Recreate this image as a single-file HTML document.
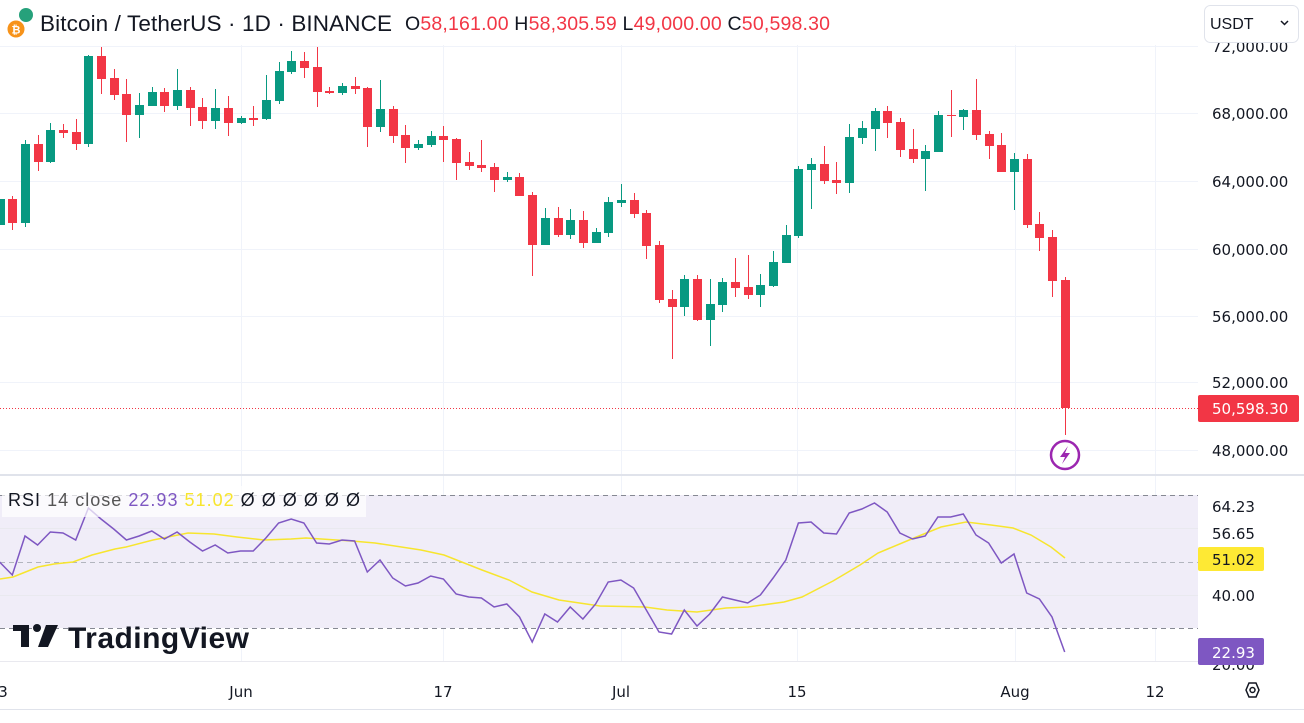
<!DOCTYPE html>
<html><head><meta charset="utf-8">
<style>
html,body{margin:0;padding:0;background:#fff;}
body{width:1304px;height:723px;overflow:hidden;position:relative;font-family:"Liberation Sans",sans-serif;}
svg{position:absolute;left:0;top:0;}
.ax{font-family:"DejaVu Sans","Liberation Sans",sans-serif;font-size:15px;fill:#131722;}
</style></head><body>
<svg id="s" width="1304" height="723" xmlns="http://www.w3.org/2000/svg">
<g id="grid"></g>
<rect x="0" y="495" width="1198" height="133" fill="#f0edf8"/>
<g stroke="#e9e9ef" stroke-width="1"><line x1="0" y1="528.5" x2="1198" y2="528.5"/><line x1="0" y1="595.5" x2="1198" y2="595.5"/><line x1="0" y1="661.5" x2="1198" y2="661.5"/></g>
<g stroke="#868993" stroke-width="1" stroke-dasharray="5,4"><line x1="0" y1="495.5" x2="1198" y2="495.5"/><line x1="0" y1="562.5" x2="1198" y2="562.5" stroke="#b2b5be"/><line x1="0" y1="628.5" x2="1198" y2="628.5"/></g>
<g id="c"></g>
<line x1="0" y1="408.5" x2="1198" y2="408.5" stroke="#f23645" stroke-width="1" stroke-dasharray="1,2"/>
<polyline id="ma" fill="none" stroke="#f7e52e" stroke-width="1.5"/>
<polyline id="rsi" fill="none" stroke="#7e57c2" stroke-width="1.5"/>
<rect x="0" y="474" width="1304" height="2" fill="#e0e3eb"/>
<rect x="0" y="709" width="1304" height="1" fill="#e0e3eb"/>
<circle cx="1065" cy="455" r="14" fill="#fff" stroke="#9c27b0" stroke-width="2.5"/>
<path d="M1068 446 L1060 457 L1065 457 L1062 464 L1070 453 L1065 453 Z" fill="#9c27b0"/>
<g class="ax">
<text x="1212" y="52">72,000.00</text>
<text x="1212" y="119">68,000.00</text>
<text x="1212" y="187">64,000.00</text>
<text x="1212" y="255">60,000.00</text>
<text x="1212" y="322">56,000.00</text>
<text x="1212" y="388">52,000.00</text>
<text x="1212" y="456">48,000.00</text>
<text x="1212" y="512">64.23</text>
<text x="1212" y="539">56.65</text>
<text x="1212" y="601">40.00</text>
<text x="1212" y="670">20.00</text>
</g>
<rect x="1198" y="395" width="101" height="27" rx="2" fill="#f23645"/>
<text x="1212" y="414" class="ax" style="fill:#fff">50,598.30</text>
<rect x="1198" y="547" width="66" height="24" rx="2" fill="#fee934"/>
<text x="1212" y="565" class="ax">51.02</text>
<rect x="1198" y="638" width="66" height="27" rx="2" fill="#7e57c2"/>
<text x="1212" y="658" class="ax" style="fill:#fff">22.93</text>
<g class="ax" text-anchor="middle">
<text x="3" y="697">3</text><text x="241" y="697">Jun</text><text x="443" y="697">17</text><text x="621" y="697">Jul</text><text x="797" y="697">15</text><text x="1015" y="697">Aug</text><text x="1155" y="697">12</text>
</g>
<polygon points="1246,690 1249,683 1256,683 1259,690 1256,697 1249,697" fill="none" stroke="#131722" stroke-width="1.5"/>
<circle cx="1252.5" cy="690" r="2.5" fill="none" stroke="#131722" stroke-width="1.5"/>
<rect x="1204.5" y="5.5" width="94" height="37" rx="6" fill="#fff" stroke="#e0e3eb"/>
<text x="1210" y="29" style="font-family:'Liberation Sans',sans-serif;font-size:16px;fill:#131722">USDT</text>
<path d="M1281 21 L1284.5 24.5 L1288 21" fill="none" stroke="#131722" stroke-width="1.5"/>
<circle cx="26" cy="15" r="7" fill="#26a17b"/>
<circle cx="16" cy="29" r="9" fill="#f7931a" stroke="#fff" stroke-width="1"/>
<text x="16" y="33.5" text-anchor="middle" style="font-size:11px;font-weight:bold;fill:#fff">₿</text>
<text x="40" y="31" textLength="352" style="font-family:'Liberation Sans',sans-serif;font-size:22.5px;fill:#131722">Bitcoin / TetherUS · 1D · BINANCE</text>
<text x="405" y="30" textLength="425" style="font-family:'Liberation Sans',sans-serif;font-size:19.5px;fill:#131722">O<tspan fill="#f23645">58,161.00</tspan> H<tspan fill="#f23645">58,305.59</tspan> L<tspan fill="#f23645">49,000.00</tspan> C<tspan fill="#f23645">50,598.30</tspan></text>
<rect x="2" y="486" width="364" height="31" fill="#fff" opacity="0.7"/>
<text x="8" y="506" textLength="352" style="font-family:'Liberation Sans',sans-serif;font-size:18px;fill:#131722">RSI <tspan fill="#555">14 close</tspan> <tspan fill="#7e57c2">22.93</tspan> <tspan fill="#f7e52e">51.02</tspan> <tspan fill="#131722">Ø  Ø  Ø  Ø  Ø  Ø</tspan></text>
<g fill="#131722">
<rect x="13" y="625" width="16" height="6"/><rect x="21" y="625" width="8" height="22"/>
<circle cx="37" cy="628" r="4"/>
<polygon points="46,625 58,625 48,647 38,647"/>
</g>
<text x="68" y="648" textLength="181" style="font-family:'Liberation Sans',sans-serif;font-size:30px;font-weight:bold;fill:#131722">TradingView</text>
</svg>
<script>
var ns="http://www.w3.org/2000/svg";
function el(p,t,a){var e=document.createElementNS(ns,t);for(var k in a)e.setAttribute(k,a[k]);p.appendChild(e);return e;}
var g=document.getElementById('grid');
[46,113,181,249,316,382,450].forEach(function(y){el(g,'line',{x1:0,x2:1198,y1:y+.5,y2:y+.5,stroke:'#f0f3fa'});});
[241,443,621,797,1015,1155].forEach(function(x){el(g,'line',{x1:x+.5,x2:x+.5,y1:45,y2:662,stroke:'#f0f3fa'});});
var C=[
[199,225,199,225,1],[199,223,196,230,0],[144,223,140,227,1],[144,162,135,171,0],[130,162,123,163,1],[130,133,124,138,0],[132,144,119,150,0],[56,144,55,147,1],[56,79,47,94,0],[78,95,69,100,0],
[94,115,79,142,0],[105,115,93,138,1],[92,106,87,106,1],[92,106,88,112,0],[90,106,69,110,1],[90,108,87,126,0],[107,121,98,129,0],[108,121,89,129,1],[108,123,96,136,0],[118,123,116,124,1],
[118,120,106,126,0],[100,119,75,120,1],[71,101,62,104,1],[61,72,51,74,1],[61,68,52,78,0],[67,92,47,107,0],[91,93,87,94,0],[86,93,83,95,1],[86,89,77,94,0],[88,127,87,147,0],
[109,127,80,132,1],[109,136,106,143,0],[135,148,125,163,0],[144,148,140,150,1],[136,145,131,147,1],[136,140,126,162,0],[139,163,138,180,0],[162,166,152,170,0],[165,168,140,172,0],[167,180,163,192,0],
[177,180,172,182,1],[177,196,173,196,0],[195,245,192,276,0],[218,245,208,245,1],[218,235,207,237,0],[220,235,209,239,1],[220,243,211,248,0],[232,243,228,243,1],[202,233,197,237,1],[200,203,184,207,1],
[200,214,193,218,0],[213,246,210,259,0],[245,300,241,303,0],[299,307,290,359,0],[279,307,275,316,1],[279,320,275,321,0],[304,320,279,346,1],[282,305,278,312,1],[282,288,258,297,0],[287,295,255,299,0],
[285,295,274,307,1],[262,286,251,287,1],[235,263,225,263,1],[169,236,166,238,1],[164,170,158,209,1],[164,181,146,184,0],[180,183,162,194,0],[137,183,124,193,1],[128,138,121,144,1],[111,129,108,151,1],
[111,123,106,138,0],[122,150,118,157,0],[149,159,129,163,0],[151,159,145,191,1],[115,152,111,152,1],[115,116,90,137,0],[110,117,109,130,1],[110,135,79,140,0],[134,146,131,159,0],[145,172,133,172,0],
[159,172,153,210,1],[159,225,154,228,0],[224,238,212,251,0],[237,281,230,297,0],[280,408,277,435,0]];
var c=document.getElementById('c');
C.forEach(function(d,i){var x=-0.4+12.68*i,col=d[4]?'#089981':'#f23645';
el(c,'rect',{x:Math.round(x),y:d[2],width:1,height:Math.max(1,d[3]-d[2]),fill:col});
el(c,'rect',{x:Math.round(x)-4,y:d[0],width:9,height:Math.max(1,d[1]-d[0]),fill:col});});
var R=[562,575,536,545,532,533,540,508,519,529,540,536,531,539,532,542,551,545,553,551,551,538,523,519,523,543,544,540,541,572,560,578,586,583,576,579,594,597,598,607,604,617,642,614,622,607,619,604,582,580,588,610,632,634,610,626,614,597,600,603,595,578,560,523,522,533,534,513,509,503,512,533,539,536,517,517,514,535,543,563,554,593,599,617,652];
document.getElementById('rsi').setAttribute('points',R.map(function(y,i){return (-0.4+12.68*i).toFixed(1)+','+y}).join(' '));
var M=[[0,579],[13,577],[23,573],[38,567],[54,564],[73,562],[92,555],[115,549],[126,547],[153,540],[188,533],[214,534],[237,537],[264,540],[291,539],[306,538],[352,541],[375,543],[421,550],[444,555],[482,570],[509,580],[532,592],[559,600],[600,606],[645,607],[667,610],[697,612],[726,608],[748,607],[784,602],[802,597],[833,581],[860,565],[878,553],[914,538],[941,527],[966,522],[991,525],[1013,528],[1031,535],[1051,547],[1065,558]];
document.getElementById('ma').setAttribute('points',M.map(function(p){return p.join(',')}).join(' '));
</script>
</body></html>
